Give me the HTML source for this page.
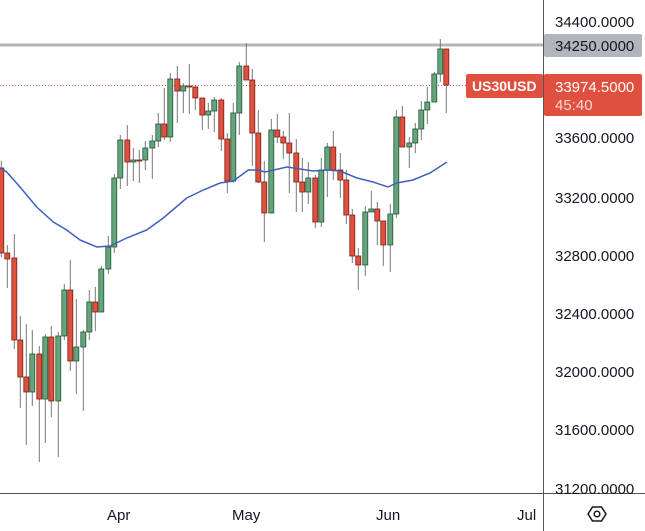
<!DOCTYPE html><html><head><style>body{margin:0;background:#fff}svg{display:block;font-family:"Liberation Sans",sans-serif}</style></head><body>
<svg width="645" height="531" viewBox="0 0 645 531">
<rect width="645" height="531" fill="#fff"/>
<line x1="0" y1="45" x2="544" y2="45" stroke="#b2b5be" stroke-width="3"/>
<line x1="0" y1="85.5" x2="544" y2="85.5" stroke="#d9534a" stroke-width="1" stroke-dasharray="1,2"/>
<g stroke="#777" stroke-width="1">
<line x1="1.3" y1="161" x2="1.3" y2="257"/><line x1="7.3" y1="245" x2="7.3" y2="288"/><line x1="14.3" y1="234" x2="14.3" y2="349"/><line x1="20.3" y1="316" x2="20.3" y2="408"/><line x1="26.3" y1="324" x2="26.3" y2="445"/><line x1="32.3" y1="330" x2="32.3" y2="406"/><line x1="39.3" y1="346" x2="39.3" y2="462"/><line x1="45.3" y1="334" x2="45.3" y2="443"/><line x1="51.3" y1="326" x2="51.3" y2="417"/><line x1="58.3" y1="332" x2="58.3" y2="457"/><line x1="64.3" y1="284" x2="64.3" y2="340"/><line x1="70.3" y1="260" x2="70.3" y2="371"/><line x1="76.3" y1="299" x2="76.3" y2="394"/><line x1="83.3" y1="330" x2="83.3" y2="411"/><line x1="89.3" y1="290" x2="89.3" y2="340"/><line x1="95.3" y1="287" x2="95.3" y2="331"/><line x1="101.3" y1="266" x2="101.3" y2="312"/><line x1="108.3" y1="236" x2="108.3" y2="274"/><line x1="114.3" y1="174" x2="114.3" y2="253"/><line x1="120.3" y1="135" x2="120.3" y2="189"/><line x1="127.3" y1="125" x2="127.3" y2="186"/><line x1="133.3" y1="148" x2="133.3" y2="181"/><line x1="139.3" y1="150" x2="139.3" y2="183"/><line x1="145.3" y1="141" x2="145.3" y2="170"/><line x1="152.3" y1="135" x2="152.3" y2="179"/><line x1="158.3" y1="113" x2="158.3" y2="147"/><line x1="164.3" y1="88" x2="164.3" y2="140"/><line x1="170.3" y1="73" x2="170.3" y2="142"/><line x1="177.3" y1="66" x2="177.3" y2="123"/><line x1="183.3" y1="83" x2="183.3" y2="113"/><line x1="189.3" y1="64" x2="189.3" y2="114"/><line x1="195.3" y1="85" x2="195.3" y2="110"/><line x1="202.3" y1="98" x2="202.3" y2="130"/><line x1="208.3" y1="103" x2="208.3" y2="129"/><line x1="214.3" y1="97" x2="214.3" y2="132"/><line x1="221.3" y1="98" x2="221.3" y2="151"/><line x1="227.3" y1="133" x2="227.3" y2="193"/><line x1="233.3" y1="103" x2="233.3" y2="183"/><line x1="239.3" y1="62" x2="239.3" y2="135"/><line x1="246.3" y1="43" x2="246.3" y2="80"/><line x1="252.3" y1="69" x2="252.3" y2="166"/><line x1="258.3" y1="110" x2="258.3" y2="183"/><line x1="264.3" y1="161" x2="264.3" y2="242"/><line x1="271.3" y1="119" x2="271.3" y2="213"/><line x1="277.3" y1="114" x2="277.3" y2="143"/><line x1="283.3" y1="131" x2="283.3" y2="159"/><line x1="289.3" y1="113" x2="289.3" y2="193"/><line x1="296.3" y1="139" x2="296.3" y2="212"/><line x1="302.3" y1="158" x2="302.3" y2="212"/><line x1="308.3" y1="162" x2="308.3" y2="204"/><line x1="315.3" y1="175" x2="315.3" y2="228"/><line x1="321.3" y1="158" x2="321.3" y2="227"/><line x1="327.3" y1="143" x2="327.3" y2="197"/><line x1="333.3" y1="131" x2="333.3" y2="180"/><line x1="340.3" y1="153" x2="340.3" y2="198"/><line x1="346.3" y1="170" x2="346.3" y2="224"/><line x1="352.3" y1="209" x2="352.3" y2="263"/><line x1="358.3" y1="248" x2="358.3" y2="290"/><line x1="365.3" y1="206" x2="365.3" y2="276"/><line x1="371.3" y1="191" x2="371.3" y2="212"/><line x1="377.3" y1="202" x2="377.3" y2="245"/><line x1="383.3" y1="221" x2="383.3" y2="266"/><line x1="390.3" y1="204" x2="390.3" y2="272"/><line x1="396.3" y1="110" x2="396.3" y2="218"/><line x1="402.3" y1="106" x2="402.3" y2="147"/><line x1="409.3" y1="137" x2="409.3" y2="168"/><line x1="415.3" y1="123" x2="415.3" y2="153"/><line x1="421.3" y1="101" x2="421.3" y2="140"/><line x1="427.3" y1="87" x2="427.3" y2="124"/><line x1="434.3" y1="72" x2="434.3" y2="102"/><line x1="440.3" y1="39" x2="440.3" y2="82"/><line x1="446.3" y1="49" x2="446.3" y2="113"/>
</g>
<g fill="#e0503f" stroke="#7a1f17" stroke-width="0.8">
<rect x="-1.2" y="168" width="5" height="85"/><rect x="4.8" y="253" width="5" height="6"/><rect x="11.8" y="258" width="5" height="82"/><rect x="17.8" y="340" width="5" height="37"/><rect x="23.8" y="377" width="5" height="15"/><rect x="36.8" y="354" width="5" height="45"/><rect x="48.8" y="337" width="5" height="64"/><rect x="67.8" y="290" width="5" height="71"/><rect x="92.8" y="302" width="5" height="10"/><rect x="124.8" y="140" width="5" height="22"/><rect x="136.8" y="160" width="5" height="1"/><rect x="161.8" y="124" width="5" height="13"/><rect x="174.8" y="79" width="5" height="12"/><rect x="186.8" y="86" width="5" height="1"/><rect x="192.8" y="87" width="5" height="11"/><rect x="199.8" y="98" width="5" height="17"/><rect x="218.8" y="100" width="5" height="39"/><rect x="224.8" y="139" width="5" height="42"/><rect x="243.8" y="66" width="5" height="14"/><rect x="249.8" y="80" width="5" height="53"/><rect x="255.8" y="133" width="5" height="49"/><rect x="261.8" y="182" width="5" height="31"/><rect x="274.8" y="130" width="5" height="7"/><rect x="280.8" y="137" width="5" height="6"/><rect x="286.8" y="143" width="5" height="10"/><rect x="293.8" y="153" width="5" height="29"/><rect x="299.8" y="182" width="5" height="10"/><rect x="312.8" y="178" width="5" height="44"/><rect x="330.8" y="147" width="5" height="23"/><rect x="337.8" y="170" width="5" height="10"/><rect x="343.8" y="180" width="5" height="35"/><rect x="349.8" y="215" width="5" height="41"/><rect x="355.8" y="256" width="5" height="9"/><rect x="374.8" y="209" width="5" height="12"/><rect x="380.8" y="221" width="5" height="24"/><rect x="399.8" y="117" width="5" height="30"/><rect x="443.8" y="49" width="5" height="36"/>
</g>
<g fill="#67a37c" stroke="#1d5733" stroke-width="0.8">
<rect x="29.8" y="354" width="5" height="38"/><rect x="42.8" y="337" width="5" height="62"/><rect x="55.8" y="336" width="5" height="65"/><rect x="61.8" y="290" width="5" height="46"/><rect x="73.8" y="347" width="5" height="14"/><rect x="80.8" y="332" width="5" height="15"/><rect x="86.8" y="302" width="5" height="30"/><rect x="98.8" y="269" width="5" height="43"/><rect x="105.8" y="247" width="5" height="22"/><rect x="111.8" y="178" width="5" height="69"/><rect x="117.8" y="140" width="5" height="38"/><rect x="130.8" y="160" width="5" height="2"/><rect x="142.8" y="148" width="5" height="12"/><rect x="149.8" y="141" width="5" height="7"/><rect x="155.8" y="124" width="5" height="17"/><rect x="167.8" y="79" width="5" height="58"/><rect x="180.8" y="86" width="5" height="5"/><rect x="205.8" y="111" width="5" height="4"/><rect x="211.8" y="100" width="5" height="11"/><rect x="230.8" y="113" width="5" height="68"/><rect x="236.8" y="66" width="5" height="47"/><rect x="268.8" y="130" width="5" height="83"/><rect x="305.8" y="178" width="5" height="14"/><rect x="318.8" y="170" width="5" height="52"/><rect x="324.8" y="147" width="5" height="23"/><rect x="362.8" y="212" width="5" height="53"/><rect x="368.8" y="209" width="5" height="3"/><rect x="387.8" y="214" width="5" height="31"/><rect x="393.8" y="117" width="5" height="97"/><rect x="406.8" y="143" width="5" height="4"/><rect x="412.8" y="129" width="5" height="14"/><rect x="418.8" y="110" width="5" height="19"/><rect x="424.8" y="102" width="5" height="8"/><rect x="431.8" y="74" width="5" height="28"/><rect x="437.8" y="49" width="5" height="25"/>
</g>
<polyline fill="none" stroke="#3f5fbf" stroke-width="1.5" points="0,168 6.7,172 20,187 36.7,207 53.3,222 66.7,230 80,240 96.7,247 110,246 126.7,238 146.7,230 163.3,218 186.7,198 203.3,190 220,183 233.3,181 248.3,170 258.3,170 265,172 287,167 313,171 327,170 340,171 357,178 373,182 388,187 397,183 413,180 430,173 447,162"/>
<line x1="543.5" y1="0" x2="543.5" y2="531" stroke="#555" stroke-width="1"/>
<line x1="0" y1="493.5" x2="645" y2="493.5" stroke="#555" stroke-width="1"/>
<g font-size="15" fill="#131722">
<text x="555" y="27">34400.0000</text>
<text x="555" y="143">33600.0000</text>
<text x="555" y="203">33200.0000</text>
<text x="555" y="261">32800.0000</text>
<text x="555" y="319">32400.0000</text>
<text x="555" y="377">32000.0000</text>
<text x="555" y="435">31600.0000</text>
<text x="555" y="494">31200.0000</text>
<text x="107" y="520">Apr</text><text x="232" y="520">May</text><text x="376" y="520">Jun</text><text x="517" y="520">Jul</text>
</g>
<rect x="544" y="34" width="98" height="23" rx="2" fill="#b2b5be"/>
<text x="555" y="51" font-size="15" fill="#131722">34250.0000</text>
<rect x="466" y="74" width="77" height="24" rx="2" fill="#e0503f"/>
<text x="472" y="91" font-size="14" font-weight="bold" fill="#fff">US30USD</text>
<rect x="544" y="74" width="98" height="42" rx="2" fill="#e0503f"/>
<text x="555" y="92" font-size="15" fill="#fff">33974.5000</text>
<text x="555" y="110" font-size="15" fill="#fbd9d5">45:40</text>
<g transform="translate(597,514)" fill="none" stroke="#131722" stroke-width="1.5">
<polygon points="-9,0 -4.5,-7 4.5,-7 9,0 4.5,7 -4.5,7"/><circle r="2.8"/></g>
</svg></body></html>
